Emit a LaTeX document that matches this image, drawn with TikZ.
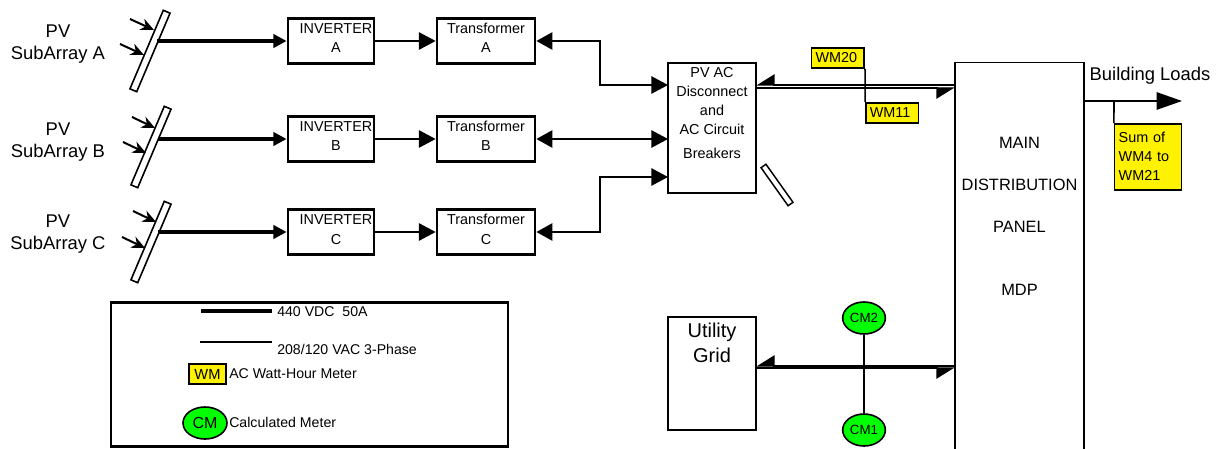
\documentclass[tikz,border=0pt]{standalone}
\usepackage{fontspec}
\setmainfont{Liberation Sans}
\usetikzlibrary{arrows.meta,shapes.geometric}
\newcommand{\insetx}{\hspace*{7.5pt}}
\tikzset{
 txt/.style={inner sep=0pt,align=center,font=\fontsize{10.8}{14.3}\selectfont},
 bigtxt/.style={inner sep=0pt,align=center,font=\fontsize{13.8}{16.5}\selectfont},
 legtxt/.style={inner sep=0pt,anchor=west,font=\fontsize{10.6}{13}\selectfont},
 unitbox/.style={txt,draw,line width=2.1pt,minimum width=64.5pt,minimum height=33.5pt,text height=24pt,text depth=6pt},
 xfmrbox/.style={unitbox,minimum width=73.5pt},
 bar/.style={draw,line width=1.2pt,fill=white,inner sep=0pt,minimum width=64pt,minimum height=5.5pt,rotate=67},
 meter/.style={txt,draw,line width=1.2pt,fill=yellow,inner xsep=3pt,inner ysep=0pt,minimum height=15pt,text width=33.5pt,align=left},
 calc/.style={txt,ellipse,draw,line width=1.2pt,fill=green,inner sep=0pt,minimum width=32pt,minimum height=24pt,font=\fontsize{10}{12}\selectfont},
 dc/.style={line width=2.7pt,-{Triangle[length=10pt,width=10pt]}},
 ac/.style={line width=1.2pt,-{Triangle[length=12.5pt,width=13pt]}},
 acboth/.style={line width=1.2pt,{Triangle[length=12pt,width=13pt]}-{Triangle[length=12.5pt,width=13pt]}},
 ray/.style={line width=1.5pt,-{Stealth[length=10pt,width=9pt]}},
 halfleft/.style={line width=1.1pt,{Triangle[harpoon,swap,length=13pt,width=16pt]}-},
 halfright/.style={line width=1.1pt,-{Triangle[harpoon,swap,length=13pt,width=16pt]}}
}
\begin{document}
\begin{tikzpicture}[x=0.75pt,y=-0.75pt]
\useasboundingbox (0,0) rectangle (1219,449);
\node[bigtxt] (LabA) at (58,44) {PV\\SubArray A};
\node[bigtxt] (LabB) at (58,142) {PV\\SubArray B};
\node[bigtxt] (LabC) at (58,234) {PV\\SubArray C};
\node[bar] (BarA) at (150,51) {};
\node[bar] (BarB) at (151,147) {};
\node[bar] (BarC) at (151,242) {};
\node[unitbox] (InvA) at (331,41) {\insetx INVERTER\\\insetx A};
\node[unitbox] (InvB) at (331,139) {\insetx INVERTER\\\insetx B};
\node[unitbox] (InvC) at (331,232) {\insetx INVERTER\\\insetx C};
\node[xfmrbox] (TrA) at (486,41) {Transformer\\A};
\node[xfmrbox] (TrB) at (486,139) {Transformer\\B};
\node[xfmrbox] (TrC) at (486,232) {Transformer\\C};
\node[txt,draw,line width=1.6pt,minimum width=66pt,minimum height=97.5pt,text height=60pt,text depth=15pt] (Disc) at (712,128)
 {PV AC\\Disconnect\\and\\AC Circuit\\[3pt]Breakers};
\node[draw,line width=1.1pt,fill=white,inner sep=0pt,minimum width=35pt,minimum height=4.5pt,rotate=-54.6] (Sw) at (777,185) {};
\node[draw,line width=1.2pt,minimum width=97pt,minimum height=305pt,inner sep=0pt,align=center,
 font=\fontsize{12.3}{31.5}\selectfont,text height=60pt,text depth=16.5pt] (MDP) at (1019.5,266)
 {MAIN\\DISTRIBUTION\\PANEL\\[15.7pt]MDP};
\node[draw,line width=1.3pt,minimum width=66pt,minimum height=84.5pt,inner sep=0pt,align=center,
 font=\fontsize{15}{18.7}\selectfont,text height=20pt,text depth=37.2pt] (Grid) at (712,373.5) {Utility\\Grid};
\node[meter] (WM20) at (837.9,58) {WM20};
\node[meter] (WM11) at (892.2,113) {WM11};
\node[meter,minimum height=49.5pt,text width=44pt,inner xsep=3pt,text height=10pt,text depth=32pt] (Sum) at (1148,157) {Sum of\\WM4 to\\WM21};
\node[bigtxt] (Loads) at (1150,76) {Building Loads};
\node[calc] (CM2) at (864,318) {CM2};
\node[calc] (CM1) at (864,430) {CM1};
\node[draw,line width=1.6pt,minimum width=298pt,minimum height=108pt,inner sep=0pt] (Legend) at (309.5,374.5) {};
\node[legtxt] (LegDC) at (277,312) {440 VDC\ \ 50A};
\node[legtxt] (LegAC) at (277,349) {208/120 VAC 3-Phase};
\node[legtxt] (LegWMt) at (229,374) {AC Watt-Hour Meter};
\node[legtxt] (LegCMt) at (229,422) {Calculated Meter};
\node[draw,line width=1.2pt,fill=yellow,inner sep=0pt,minimum width=27.5pt,minimum height=15pt,font=\fontsize{11}{13}\selectfont] (LegWM) at (207.5,374) {WM};
\node[calc,minimum width=33pt,font=\fontsize{12}{14}\selectfont] (LegCM) at (205,423) {CM};
\coordinate (OutA) at (157,41);
\coordinate (OutB) at (158,139);
\coordinate (OutC) at (158,232);
\coordinate (RayA1) at (130,19);
\coordinate (RayA2) at (120,44);
\coordinate (RayB1) at (132,117);
\coordinate (RayB2) at (123,142);
\coordinate (RayC1) at (133,211);
\coordinate (RayC2) at (122,237);
\coordinate (EndA1) at (154,30);
\coordinate (EndA2) at (144,55);
\coordinate (EndB1) at (155,128);
\coordinate (EndB2) at (146,153);
\coordinate (EndC1) at (156,222);
\coordinate (EndC2) at (145,248);
\coordinate (KA) at (600,41);
\coordinate (KC) at (600,232);
\coordinate (DiscA) at (668,85);
\coordinate (DiscB) at (668,139);
\coordinate (DiscC) at (668,177);
\coordinate (DiscT) at (756,85);
\coordinate (DiscU) at (756,88);
\coordinate (MainT) at (955,85);
\coordinate (MainU) at (955,88);
\coordinate (GridT) at (756,366);
\coordinate (GridU) at (756,368);
\coordinate (MainV) at (955,366);
\coordinate (MainW) at (955,368);
\coordinate (LoadS) at (1084,101);
\coordinate (LoadE) at (1182,101);
\coordinate (LoadK) at (1114,101);
\coordinate (LegA) at (201,311);
\coordinate (LegB) at (272,311);
\coordinate (LegC) at (200,342);
\coordinate (LegD) at (272,342);
\path[ray]
(RayA1) edge (EndA1)
(RayA2) edge (EndA2)
(RayB1) edge (EndB1)
(RayB2) edge (EndB2)
(RayC1) edge (EndC1)
(RayC2) edge (EndC2);
\path[dc]
(OutA) edge (InvA)
(OutB) edge (InvB)
(OutC) edge (InvC);
\path[ac]
(InvA) edge (TrA)
(InvB) edge (TrB)
(InvC) edge (TrC);
\draw[acboth] (TrA) -- (KA) |- (DiscA);
\draw[acboth] (TrB) -- (DiscB);
\draw[acboth] (TrC) -- (KC) |- (DiscC);
\draw[halfleft] (DiscT) -- (MainT);
\draw[halfright] (DiscU) -- (MainU);
\draw[halfleft] (GridT) -- (MainV);
\draw[halfright] (GridU) -- (MainW);
\draw[line width=1.2pt] (WM20.south east) -- (WM11.north west);
\draw[line width=1.2pt] (CM2) -- (CM1);
\draw[line width=1.3pt,-{Triangle[length=19pt,width=13pt]}] (LoadS) -- (LoadE);
\draw[line width=1.2pt] (LoadK) -- (Sum.north west);
\draw[line width=3pt] (LegA) -- (LegB);
\draw[line width=1.2pt] (LegC) -- (LegD);
\end{tikzpicture}
\end{document}
